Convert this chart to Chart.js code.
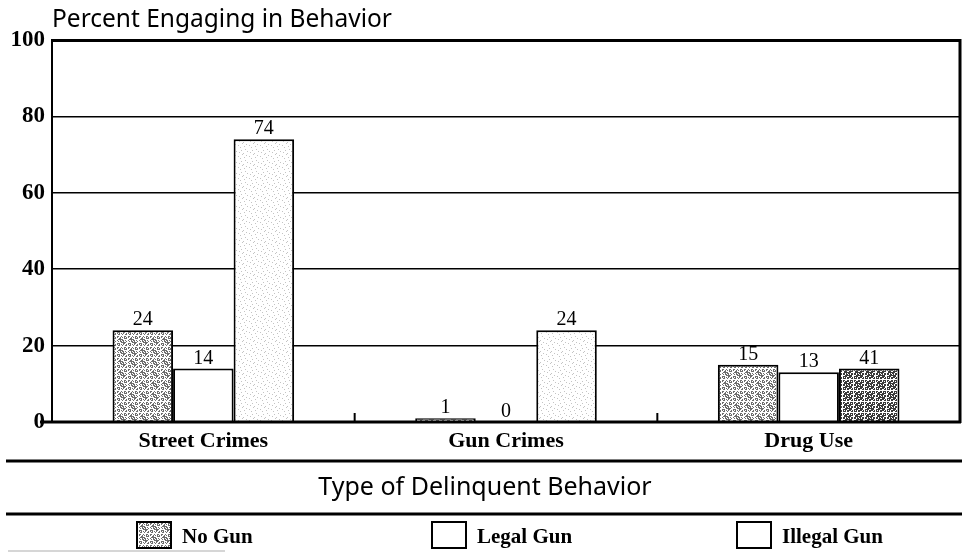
<!DOCTYPE html>
<html>
<head>
<meta charset="utf-8">
<script src="https://cdn.jsdelivr.net/npm/chart.js@4/dist/chart.umd.min.js"></script>
<style>
  body { margin: 0; background: #fff; }
  #wrap { width: 969px; height: 555px; }
</style>
</head>
<body>
<div id="wrap"><canvas id="chart-area" width="969" height="555"></canvas></div>
<script>
// data
var categories = ['Street Crimes', 'Gun Crimes', 'Drug Use'];
var seriesNames = ['No Gun', 'Legal Gun', 'Illegal Gun'];
var noGun = [24, 1, 15];
var legalGun = [14, 0, 13];
var illegalGun = [74, 24, 14];
// numbers printed above the bars (the last one is printed as 41 in the figure)
var noGunLabels = ['24', '1', '15'];
var legalGunLabels = ['14', '0', '13'];
var illegalGunLabels = ['74', '24', '41'];
var yTicks = [0, 20, 40, 60, 80, 100];

var SERIF = '"Liberation Serif", "Times New Roman", serif';
var SANS = '"Noto Sans", sans-serif';

// stipple fill on a fixed 11x11 grid (no random)
function stipple(k, dot) {
  var n = 11;
  var pc = document.createElement('canvas');
  pc.width = n; pc.height = n;
  var p = pc.getContext('2d');
  p.fillStyle = '#fff';
  p.fillRect(0, 0, n, n);
  p.fillStyle = dot;
  for (var x = 0; x < n; x++) {
    for (var y = 0; y < n; y++) {
      if ((x * 7 + y * 4 + x * y * 3) % n < k) p.fillRect(x, y, 1, 1);
    }
  }
  return p.createPattern(pc, 'repeat');
}
var greyFill = stipple(5, '#6e6e6e');
var darkFill = stipple(7, '#3a3a3a');
var lightFill = stipple(1, '#c4c4c4');

var ctx = document.getElementById('chart-area');

// 標註、外框、圖例
var decor = {
  id: 'decor',
  afterDraw: function(chart) {
    var c = chart.ctx;
    var a = chart.chartArea;
    var xs = chart.scales.x;
    c.save();
    c.fillStyle = '#000';
    c.strokeStyle = '#000';

    // value labels above bars
    var labelSets = [noGunLabels, legalGunLabels, illegalGunLabels];
    c.font = '20px ' + SERIF;
    c.textAlign = 'center';
    c.textBaseline = 'alphabetic';
    for (var d = 0; d < chart.data.datasets.length; d++) {
      var meta = chart.getDatasetMeta(d);
      meta.data.forEach(function(el, i) {
        c.fillText(labelSets[d][i], el.x, el.y - 5);
      });
    }

    // axes and frame
    c.lineWidth = 2;
    c.beginPath(); c.moveTo(a.left, a.top - 1); c.lineTo(a.left, a.bottom); c.stroke();
    c.lineWidth = 3;
    c.beginPath(); c.moveTo(a.right, a.top - 1); c.lineTo(a.right, a.bottom + 1); c.stroke();
    c.beginPath(); c.moveTo(a.left - 12, a.bottom); c.lineTo(a.right + 1, a.bottom); c.stroke();

    // small ticks between categories
    c.lineWidth = 2;
    for (var i = 0; i < categories.length - 1; i++) {
      var bx = (xs.getPixelForValue(i) + xs.getPixelForValue(i + 1)) / 2;
      c.beginPath(); c.moveTo(bx, a.bottom); c.lineTo(bx, a.bottom - 9); c.stroke();
    }

    // titles
    c.textAlign = 'left';
    c.font = '24.5px ' + SANS;
    c.fillText('Percent Engaging in Behavior', 52, 27);
    c.textAlign = 'center';
    c.font = '25px ' + SANS;
    c.fillText('Type of Delinquent Behavior', 485, 495);

    // rules around the axis title
    c.lineWidth = 3;
    c.beginPath(); c.moveTo(6, 461); c.lineTo(962, 461); c.stroke();
    c.beginPath(); c.moveTo(6, 514); c.lineTo(962, 514); c.stroke();
    c.strokeStyle = '#c8c8c8';
    c.lineWidth = 1.5;
    c.beginPath(); c.moveTo(8, 551); c.lineTo(225, 551); c.stroke();
    c.strokeStyle = '#000';

    // legend
    var boxX = [137, 432, 737];
    var fills = [greyFill, '#fff', '#fff'];
    c.textAlign = 'left';
    c.font = 'bold 21px ' + SERIF;
    for (var j = 0; j < seriesNames.length; j++) {
      c.fillStyle = fills[j];
      c.fillRect(boxX[j], 522, 34, 26);
      c.lineWidth = 2;
      c.strokeRect(boxX[j], 522, 34, 26);
      c.fillStyle = '#000';
      c.fillText(seriesNames[j], boxX[j] + 45, 543);
    }
    c.restore();
  }
};

var myChart = new Chart(ctx, {
  type: 'bar',
  data: {
    labels: categories,
    datasets: [
      { label: seriesNames[0], data: noGun, backgroundColor: greyFill },
      { label: seriesNames[1], data: legalGun, backgroundColor: '#fff' },
      { label: seriesNames[2], data: illegalGun, backgroundColor: [lightFill, lightFill, darkFill] }
    ]
  },
  options: {
    responsive: false,
    animation: false,
    layout: { padding: { top: 40, right: 9, left: 0, bottom: 0 } },
    datasets: {
      bar: {
        borderColor: '#000',
        borderWidth: 2,
        categoryPercentage: 0.6,
        barPercentage: 1.0
      }
    },
    plugins: {
      legend: { display: false },
      tooltip: { enabled: false },
      title: { display: false }
    },
    scales: {
      x: {
        grid: { display: false, drawTicks: false },
        border: { display: false },
        ticks: { color: '#000', padding: 6, font: { family: SERIF, size: 22, weight: 'bold' } },
        afterFit: function(s) { s.height = 133; }
      },
      y: {
        min: 0,
        max: 100,
        afterBuildTicks: function(s) { s.ticks = yTicks.map(function(v) { return { value: v }; }); },
        grid: {
          color: '#000',
          drawTicks: false,
          lineWidth: function(g) { return g.tick && g.tick.value === 100 ? 3 : 1.5; }
        },
        border: { display: false },
        ticks: { color: '#000', padding: 7, font: { family: SERIF, size: 23, weight: 'bold' } },
        afterFit: function(s) { s.width = 52; }
      }
    }
  },
  plugins: [decor]
});
</script>
</body>
</html>
